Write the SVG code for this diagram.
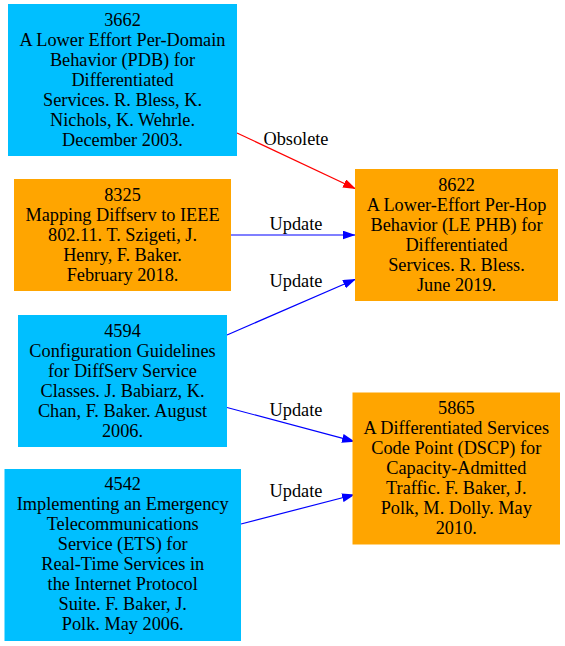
<svg xmlns="http://www.w3.org/2000/svg" width="565" height="646" viewBox="0 0 565 646">
<style>
.blue rect{fill:#00bfff;stroke:#00bfff}
.orange rect{fill:#ffa500;stroke:#ffa500}
.e{fill:none;stroke-width:1.2}
.r{stroke:#ff0000}
.b{stroke:#0000ff}
</style>
<defs>
<marker id="ar" markerUnits="userSpaceOnUse" markerWidth="13" markerHeight="9" refX="13" refY="4.5" orient="auto"><path d="M0,0 L13,4.5 L0,9 z" fill="#ff0000"/></marker>
<marker id="ab" markerUnits="userSpaceOnUse" markerWidth="13" markerHeight="9" refX="13" refY="4.5" orient="auto"><path d="M0,0 L13,4.5 L0,9 z" fill="#0000ff"/></marker>
</defs>
<rect width="565" height="646" fill="#fff"/>
<g font-family="'Liberation Serif', 'Times New Roman', serif" font-size="18.3" text-anchor="middle" fill="#000">
<g id="edges">
<line class="e r" x1="237" y1="133" x2="356" y2="189" marker-end="url(#ar)"/>
<text x="296" y="144.5">Obsolete</text>
<line class="e b" x1="231" y1="235" x2="355.5" y2="235" marker-end="url(#ab)"/>
<text x="296" y="229.5">Update</text>
<line class="e b" x1="227" y1="335" x2="356" y2="279" marker-end="url(#ab)"/>
<text x="296" y="286.5">Update</text>
<line class="e b" x1="227" y1="407.5" x2="355" y2="441.7" marker-end="url(#ab)"/>
<text x="296" y="415.5">Update</text>
<line class="e b" x1="241" y1="524" x2="355" y2="494.5" marker-end="url(#ab)"/>
<text x="296" y="496.5">Update</text>
</g>
<g id="n3662" class="blue">
<rect x="8.5" y="4.5" width="228" height="151"/>
<text x="122.5" y="25.5">3662</text>
<text x="122.5" y="45.5">A Lower Effort Per-Domain</text>
<text x="122.5" y="65.5">Behavior (PDB) for</text>
<text x="122.5" y="85.5">Differentiated</text>
<text x="122.5" y="105.5">Services. R. Bless, K.</text>
<text x="122.5" y="125.5">Nichols, K. Wehrle.</text>
<text x="122.5" y="145.5">December 2003.</text>
</g>
<g id="n8325" class="orange">
<rect x="14.5" y="179.5" width="216" height="111"/>
<text x="122.5" y="200.5">8325</text>
<text x="122.5" y="220.5">Mapping Diffserv to IEEE</text>
<text x="122.5" y="240.5">802.11. T. Szigeti, J.</text>
<text x="122.5" y="260.5">Henry, F. Baker.</text>
<text x="122.5" y="280.5">February 2018.</text>
</g>
<g id="n4594" class="blue">
<rect x="18.5" y="315.5" width="208" height="131"/>
<text x="122.5" y="336.5">4594</text>
<text x="122.5" y="356.5">Configuration Guidelines</text>
<text x="122.5" y="376.5">for DiffServ Service</text>
<text x="122.5" y="396.5">Classes. J. Babiarz, K.</text>
<text x="122.5" y="416.5">Chan, F. Baker. August</text>
<text x="122.5" y="436.5">2006.</text>
</g>
<g id="n4542" class="blue">
<rect x="5" y="469.5" width="235.5" height="171"/>
<text x="122.7" y="490">4542</text>
<text x="122.7" y="510">Implementing an Emergency</text>
<text x="122.7" y="530">Telecommunications</text>
<text x="122.7" y="550">Service (ETS) for</text>
<text x="122.7" y="570">Real-Time Services in</text>
<text x="122.7" y="590">the Internet Protocol</text>
<text x="122.7" y="610">Suite. F. Baker, J.</text>
<text x="122.7" y="630">Polk. May 2006.</text>
</g>
<g id="n8622" class="orange">
<rect x="355.5" y="169.5" width="202" height="131"/>
<text x="456.5" y="190.5">8622</text>
<text x="456.5" y="210.5">A Lower-Effort Per-Hop</text>
<text x="456.5" y="230.5">Behavior (LE PHB) for</text>
<text x="456.5" y="250.5">Differentiated</text>
<text x="456.5" y="270.5">Services. R. Bless.</text>
<text x="456.5" y="290.5">June 2019.</text>
</g>
<g id="n5865" class="orange">
<rect x="353" y="393" width="206.5" height="151"/>
<text x="456.3" y="413.5">5865</text>
<text x="456.3" y="433.5">A Differentiated Services</text>
<text x="456.3" y="453.5">Code Point (DSCP) for</text>
<text x="456.3" y="473.5">Capacity-Admitted</text>
<text x="456.3" y="493.5">Traffic. F. Baker, J.</text>
<text x="456.3" y="513.5">Polk, M. Dolly. May</text>
<text x="456.3" y="533.5">2010.</text>
</g>
</g>
</svg>
